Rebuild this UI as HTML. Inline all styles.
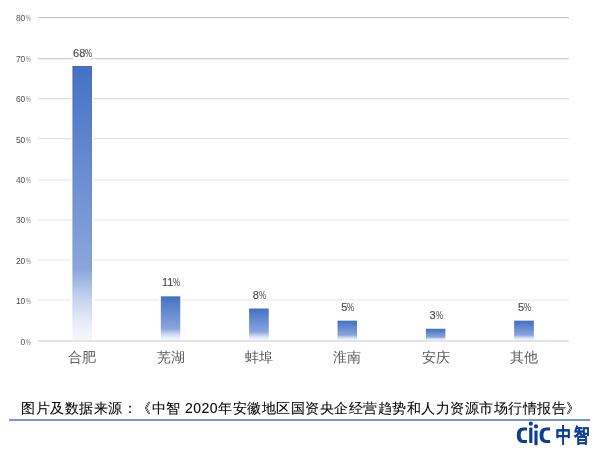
<!DOCTYPE html>
<html><head><meta charset="utf-8"><style>
html,body{margin:0;padding:0;}
body{width:600px;height:457px;background:#fff;position:relative;overflow:hidden;font-family:"Liberation Sans",sans-serif;}
svg{position:absolute;left:0;top:0;}
#t{position:absolute;left:0;top:0;width:600px;height:457px;will-change:transform;}
.yl{position:absolute;left:0;width:30.6px;text-align:right;font-size:8.5px;line-height:10px;color:#505050;letter-spacing:-0.2px;}
.yl i{font-style:normal;display:inline-block;transform:scaleX(0.62);transform-origin:0 0;width:4.6px;margin-left:1px;color:#777;text-align:left;letter-spacing:0;}
.dl{position:absolute;width:40px;text-align:center;font-size:11px;line-height:12px;color:#4a4a4a;letter-spacing:0px;}
.dl span{background:#fff;-webkit-text-stroke:0.15px #4a4a4a;}
.dl i{font-style:normal;display:inline-block;transform:scaleX(0.72);transform-origin:0 0;width:5.8px;text-align:left;letter-spacing:0;color:#666;}
.xl{position:absolute;width:60px;text-align:center;font-size:14px;line-height:16px;color:#595959;}
.src{position:absolute;left:21px;top:399px;font-size:14px;line-height:18px;color:#000;letter-spacing:0.5px;-webkit-text-stroke:0.08px #000;white-space:nowrap;}
</style></head><body>
<svg width="600" height="457" viewBox="0 0 600 457">
<defs><linearGradient id="bg" x1="0" y1="0" x2="0" y2="1">
<stop offset="0" stop-color="#4472c4"/><stop offset="0.74" stop-color="#8aa6dc"/><stop offset="0.85" stop-color="#c6d3ee"/><stop offset="0.93" stop-color="#e5ebf7"/><stop offset="1" stop-color="#f6f8fd"/>
</linearGradient><linearGradient id="be" x1="0" y1="0" x2="0" y2="1">
<stop offset="0" stop-color="#3764b8"/><stop offset="0.74" stop-color="#7e9cd8"/><stop offset="0.85" stop-color="#bccbeb"/><stop offset="0.93" stop-color="#e0e7f6"/><stop offset="1" stop-color="#f6f8fd"/>
</linearGradient></defs>

<rect x="38" y="17" width="531" height="1" fill="#c4c4c4"/>
<rect x="38" y="18" width="531" height="1" fill="#f6f6f6"/>
<rect x="38" y="58" width="531" height="1" fill="#d0d0d0"/>
<rect x="38" y="59" width="531" height="1" fill="#f2f2f2"/>
<rect x="38" y="98" width="531" height="1" fill="#dcdcdc"/>
<rect x="38" y="99" width="531" height="1" fill="#f6f6f6"/>
<rect x="38" y="138" width="531" height="1" fill="#e2e2e2"/>
<rect x="38" y="139" width="531" height="1" fill="#f6f6f6"/>
<rect x="38" y="179" width="531" height="1" fill="#eeeeee"/>
<rect x="38" y="180" width="531" height="1" fill="#f4f4f4"/>
<rect x="38" y="219" width="531" height="1" fill="#f0f0f0"/>
<rect x="38" y="220" width="531" height="1" fill="#f5f5f5"/>
<rect x="38" y="259" width="531" height="1" fill="#f3f3f3"/>
<rect x="38" y="260" width="531" height="1" fill="#f4f4f4"/>
<rect x="38" y="299" width="531" height="1" fill="#f2f2f2"/>
<rect x="38" y="300" width="531" height="1" fill="#f5f5f5"/>
<rect x="38" y="340" width="531" height="1" fill="#e2e2e2"/>
<rect x="38" y="341" width="531" height="1" fill="#e6e6e6"/>
<rect x="70.90" y="64.51" width="22.60" height="275.49" fill="#fff"/>
<rect x="72.95" y="66.46" width="18.50" height="273.54" fill="url(#bg)" stroke="url(#be)" stroke-width="0.9"/>
<rect x="159.26" y="294.93" width="22.60" height="45.07" fill="#fff"/>
<rect x="161.31" y="296.88" width="18.50" height="43.12" fill="url(#bg)" stroke="url(#be)" stroke-width="0.9"/>
<rect x="247.62" y="307.06" width="22.60" height="32.94" fill="#fff"/>
<rect x="249.67" y="309.01" width="18.50" height="30.99" fill="url(#bg)" stroke="url(#be)" stroke-width="0.9"/>
<rect x="335.98" y="319.19" width="22.60" height="20.81" fill="#fff"/>
<rect x="338.03" y="321.14" width="18.50" height="18.86" fill="url(#bg)" stroke="url(#be)" stroke-width="0.9"/>
<rect x="424.34" y="327.27" width="22.60" height="12.73" fill="#fff"/>
<rect x="426.39" y="329.22" width="18.50" height="10.78" fill="url(#bg)" stroke="url(#be)" stroke-width="0.9"/>
<rect x="512.70" y="319.19" width="22.60" height="20.81" fill="#fff"/>
<rect x="514.75" y="321.14" width="18.50" height="18.86" fill="url(#bg)" stroke="url(#be)" stroke-width="0.9"/>
<rect x="38" y="340" width="531" height="1" fill="#e2e2e2"/>
<rect x="38" y="341" width="531" height="1" fill="#e6e6e6"/>
</svg><div id="t">
<div class="yl" style="top:336.7px">0<i>%</i></div>
<div class="yl" style="top:296.3px">10<i>%</i></div>
<div class="yl" style="top:255.8px">20<i>%</i></div>
<div class="yl" style="top:215.4px">30<i>%</i></div>
<div class="yl" style="top:175.0px">40<i>%</i></div>
<div class="yl" style="top:134.6px">50<i>%</i></div>
<div class="yl" style="top:94.1px">60<i>%</i></div>
<div class="yl" style="top:53.7px">70<i>%</i></div>
<div class="yl" style="top:13.3px">80<i>%</i></div>
<div class="dl" style="left:62.1px;top:47.1px"><span>68<i>%</i></span></div>
<div class="xl" style="left:52.2px;top:349px">合肥</div>
<div class="dl" style="left:150.5px;top:276.3px"><span>11<i>%</i></span></div>
<div class="xl" style="left:140.6px;top:349px">芜湖</div>
<div class="dl" style="left:238.8px;top:288.5px"><span>8<i>%</i></span></div>
<div class="xl" style="left:228.9px;top:349px">蚌埠</div>
<div class="dl" style="left:327.2px;top:300.6px"><span>5<i>%</i></span></div>
<div class="xl" style="left:317.3px;top:349px">淮南</div>
<div class="dl" style="left:415.5px;top:308.7px"><span>3<i>%</i></span></div>
<div class="xl" style="left:405.6px;top:349px">安庆</div>
<div class="dl" style="left:503.9px;top:300.6px"><span>5<i>%</i></span></div>
<div class="xl" style="left:494.0px;top:349px">其他</div>
<div class="src">图片及数据来源：《中智 2020年安徽地区国资央企经营趋势和人力资源市场行情报告》</div>
<svg width="600" height="457" viewBox="0 0 600 457">
<rect x="9" y="419" width="581" height="2" fill="#7597d6"/>
<g fill="#0c3e96">
<path d="M527 427.5H523.2Q516.8 427.5 516.8 435.25Q516.8 443 523.2 443H527V440H523.6Q520.7 440 520.7 435.25Q520.7 430.5 523.6 430.5H527Z"/>
<path d="M550.1 427.5H546.3Q539.5 427.5 539.5 435.25Q539.5 443 546.3 443H550.1V440H546.7Q543.4 440 543.4 435.25Q543.4 430.5 546.7 430.5H550.1Z"/>
</g>
<g fill="#0c3e96">
<circle cx="530.8" cy="423.7" r="2.1"/><circle cx="536" cy="426.4" r="2.1"/>
<rect x="529.2" y="427.6" width="3.2" height="15.3" rx="0.6"/>
<rect x="534.4" y="430.6" width="3.2" height="14.6" rx="0.6"/>
</g>
</svg>
<div id="logo" style="position:absolute;left:556px;top:423px;font-size:19.5px;line-height:24px;color:#0c3e96;font-weight:bold;transform:scaleX(0.77);transform-origin:0 0;letter-spacing:3.2px;-webkit-text-stroke:0.3px #0c3e96;white-space:nowrap;">中智</div>
</div></body></html>
